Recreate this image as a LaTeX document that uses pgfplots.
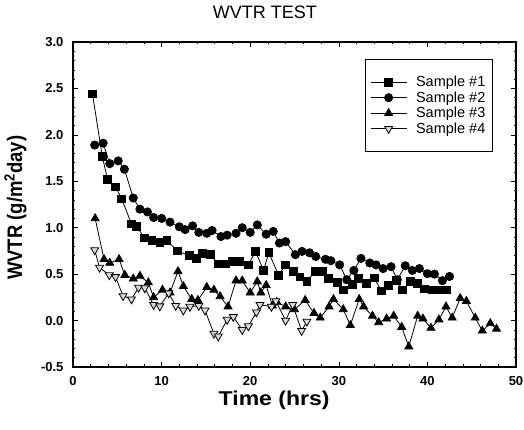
\documentclass[border=0pt]{standalone}
\usepackage{fontspec}
\setmainfont{Liberation Sans}
\usepackage{graphicx}
\usepackage{pgfplots}
\pgfplotsset{compat=1.18}

\begin{document}
\begin{tikzpicture}[x=1pt,y=1pt]
\useasboundingbox (-73,-63) rectangle (451,367);
\begin{axis}[
    at={(0,0)}, anchor=south west,
    scale only axis, width=443pt, height=325pt,
    xmin=0, xmax=50, ymin=-0.5, ymax=3.0,
    xtick={0,10,...,50}, ytick={-0.5,0,...,3.0},
    minor x tick num=4, minor y tick num=4,
    major tick length=5pt, minor tick length=2.5pt,
    tick align=inside,
    axis line style={line width=1.5pt},
    every tick/.style={black, line width=0.6pt},
    /pgf/number format/assume math mode=true,
    ticklabel style={font=\bfseries\fontsize{13}{15}\selectfont},
    yticklabel style={xshift=-6pt, /pgf/number format/.cd, fixed, fixed zerofill, precision=1},
    xticklabel style={yshift=-5.5pt},
    xlabel={\scalebox{1.15}[1]{Time (hrs)}},
    xlabel style={at={(axis description cs:0.454,-0.102)}, anchor=center,
        font=\bfseries\fontsize{20}{24}\selectfont},
    ylabel={\scalebox{0.88}[1]{WVTR (g/m\textsuperscript{2}day)}},
    ylabel style={at={(axis description cs:-0.13,0.49)}, anchor=center, rotate=0,
        font=\bfseries\fontsize{21}{24}\selectfont},
    title={WVTR TEST},
    title style={at={(axis description cs:0.433,1.072)}, anchor=center,
        font=\fontsize{18}{20}\selectfont},
    legend style={at={(0.659,0.948)}, anchor=north west, draw=black, line width=0.6pt,
        font=\fontsize{14.5}{16}\selectfont, inner xsep=5pt, inner ysep=15pt,
        row sep=-0.5pt, column sep=7pt, cells={anchor=west}},
    legend image code/.code={
        \draw[mark repeat=2, mark phase=2, #1] plot coordinates {(0pt,0pt) (18pt,0pt) (36pt,0pt)};},
]
% Sample #1
\addplot[black, line width=0.8pt, mark=square*, mark size=3.9pt, mark options={solid}] coordinates {
    (2.2,2.44) (3.3,1.77) (3.9,1.52) (4.8,1.44) (5.5,1.31) (6.6,1.04) (7.2,1.01)
    (8.1,0.89) (8.9,0.86) (9.8,0.84) (10.6,0.86) (11.8,0.75) (13.1,0.70) (13.9,0.67)
    (14.6,0.72) (15.5,0.71) (16.4,0.61) (17.2,0.61) (18.0,0.64) (18.8,0.64) (19.8,0.60)
    (20.6,0.745) (21.5,0.54) (22.1,0.73) (23.2,0.49) (24.0,0.60) (24.9,0.53) (25.6,0.47)
    (26.4,0.42) (27.3,0.53) (28.2,0.53) (28.8,0.45) (29.8,0.41) (30.5,0.33) (31.5,0.39)
    (32.2,0.45) (33.1,0.40) (34.0,0.46) (34.8,0.32) (35.6,0.38) (36.5,0.43) (37.2,0.33)
    (38.1,0.42) (38.9,0.40) (39.7,0.34) (40.5,0.33) (41.3,0.33) (42.1,0.33)
};
\addlegendentry{Sample \#1\hspace{12pt}}
% Sample #2
\addplot[black, line width=0.8pt, mark=*, mark size=4.1pt, mark options={solid}] coordinates {
    (2.45,1.89) (3.4,1.91) (4.15,1.69) (5.1,1.72) (5.8,1.63) (6.8,1.32) (7.55,1.20)
    (8.4,1.17) (9.1,1.11) (10.0,1.10) (10.95,1.06) (12.0,1.01) (12.65,0.98) (13.5,1.02)
    (14.2,0.95) (15.1,0.94) (15.7,0.97) (16.7,0.905) (17.4,0.92) (18.4,0.94) (19.1,1.00)
    (20.0,0.95) (20.8,1.03) (21.8,0.93) (22.6,0.96) (23.3,0.835) (24.0,0.85) (25.1,0.71)
    (25.85,0.745) (26.7,0.73) (27.4,0.69) (28.5,0.66) (29.1,0.645) (30.1,0.60) (30.9,0.44)
    (31.7,0.54) (32.5,0.67) (33.5,0.62) (34.2,0.60) (35.0,0.56) (35.9,0.58) (36.6,0.44)
    (37.5,0.59) (38.3,0.54) (39.1,0.56) (40.0,0.505) (40.8,0.50) (41.7,0.43) (42.5,0.475)
};
\addlegendentry{Sample \#2\hspace{12pt}}
% Sample #3
\addplot[black, line width=0.8pt, mark=triangle*, mark size=4.6pt, mark options={solid}] coordinates {
    (2.5,1.10) (3.5,0.66) (4.15,0.62) (5.2,0.66) (5.85,0.49) (6.8,0.45) (7.55,0.48)
    (8.5,0.41) (9.1,0.25) (10.1,0.33) (10.95,0.30) (11.85,0.53) (12.45,0.37) (13.4,0.23)
    (14.1,0.22) (15.1,0.36) (15.9,0.33) (16.6,0.26) (17.5,0.15) (18.4,0.43) (19.1,0.43)
    (20.0,0.30) (20.8,0.42) (21.2,0.30) (21.8,0.38) (22.5,0.16) (23.0,0.20) (24.0,0.15)
    (25.0,0.12) (26.2,0.22) (27.2,0.08) (27.9,0.03) (28.9,0.15) (29.4,0.23) (30.5,0.12)
    (31.3,-0.05) (32.3,0.23) (32.8,0.15) (33.8,0.05) (34.5,-0.02) (35.4,0.02) (36.2,0.05)
    (37.1,-0.07) (37.9,-0.28) (38.9,0.05) (39.5,0.02) (40.4,-0.08) (41.3,0.01) (42.1,0.15)
    (42.8,0.03) (43.7,0.24) (44.4,0.21) (45.4,0.03) (46.2,-0.11) (47.1,-0.03) (47.8,-0.09)
};
\addlegendentry{Sample \#3\hspace{12pt}}
% Sample #4
\addplot[black, line width=0.8pt, mark=triangle*, mark size=4.6pt,
    mark options={solid, rotate=180, fill=gray!30, draw=black}] coordinates {
    (2.45,0.76) (3.0,0.57) (4.1,0.49) (4.8,0.47) (5.65,0.265) (6.6,0.23) (7.4,0.355)
    (8.1,0.35) (9.1,0.17) (9.8,0.155) (10.8,0.295) (11.6,0.16) (12.45,0.11) (13.2,0.15)
    (14.2,0.16) (14.9,0.11) (15.9,-0.14) (16.4,-0.17) (17.4,0.01) (18.1,0.04) (19.1,-0.10)
    (19.8,-0.06) (20.7,0.09) (21.1,0.17) (22.4,0.15) (22.9,0.21) (24.0,0.00) (24.8,0.17)
    (25.8,-0.11) (26.4,-0.01)
};
\addlegendentry{Sample \#4\hspace{12pt}}
\end{axis}
\end{tikzpicture}
\end{document}
